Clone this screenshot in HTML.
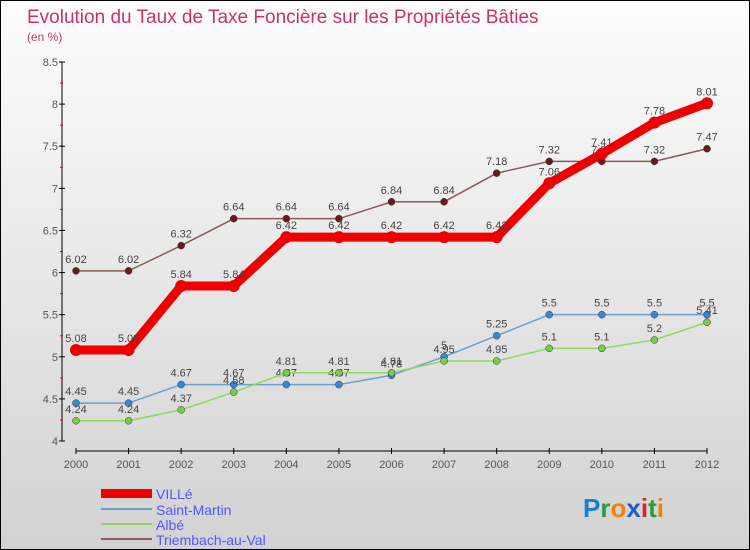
<!DOCTYPE html>
<html><head><meta charset="utf-8"><style>
body{margin:0}
#c{width:748px;height:548px;border:1px solid #000;background:linear-gradient(#fdfdfd,#d2d2d2);position:relative;font-family:"Liberation Sans",sans-serif}
</style></head><body>
<div id="c">
<svg id="s" width="748" height="548" style="position:absolute;left:0;top:0">
<text x="26" y="22" font-size="19" fill="#c8326e">Evolution du Taux de Taxe Foncière sur les Propriétés Bâties</text>
<text x="26" y="40" font-size="12" fill="#c8326e">(en %)</text>
<g id="axes"></g><g id="series"></g>
<g>
<rect x="100" y="488" width="51" height="9" fill="#e00"/>
<text x="155" y="498" font-size="14" fill="#55f">VILLé</text>
<rect x="100" y="507" width="51" height="2" fill="#6aa0cc"/>
<text x="155" y="514" font-size="14" fill="#55f">Saint-Martin</text>
<rect x="100" y="522" width="51" height="2" fill="#8ed860"/>
<text x="155" y="529" font-size="14" fill="#55f">Albé</text>
<rect x="100" y="537" width="51" height="2" fill="#8a5a5a"/>
<text x="155" y="544" font-size="14" fill="#55f">Triembach-au-Val</text>
</g>
<text x="582" y="516" font-size="26" font-weight="bold"><tspan fill="#1a7fd0">P</tspan><tspan fill="#2a9a3a">r</tspan><tspan fill="#f08010">o</tspan><tspan fill="#1a5fd0">x</tspan><tspan fill="#e02020">i</tspan><tspan fill="#2a9a3a">t</tspan><tspan fill="#f08010">i</tspan></text>
</svg></div>
<script>
const years=[2000,2001,2002,2003,2004,2005,2006,2007,2008,2009,2010,2011,2012];
const ville=[5.08,5.08,5.84,5.84,6.42,6.42,6.42,6.42,6.42,7.06,7.41,7.78,8.01];
const saintMartin=[4.45,4.45,4.67,4.67,4.67,4.67,4.78,5,5.25,5.5,5.5,5.5,5.5];
const albe=[4.24,4.24,4.37,4.58,4.81,4.81,4.81,4.95,4.95,5.1,5.1,5.2,5.41];
const triembach=[6.02,6.02,6.32,6.64,6.64,6.64,6.84,6.84,7.18,7.32,7.32,7.32,7.47];
const yTicks=[4,4.5,5,5.5,6,6.5,7,7.5,8,8.5];
const NS="http://www.w3.org/2000/svg";
const X=i=>75+i*(706-75)/(years.length-1);
const Y=v=>440-(v-4)*(440-61)/4.5;
function mk(tag,attrs,parent){const e=document.createElementNS(NS,tag);for(const k in attrs)e.setAttribute(k,attrs[k]);parent.appendChild(e);return e;}
const ax=document.getElementById('axes'),sg=document.getElementById('series');
let e=mk('line',{x1:61,y1:Y(8.5),x2:61,y2:Y(4),stroke:'#000'},ax);

e=mk('line',{x1:75,y1:450,x2:706,y2:450,stroke:'#000'},ax);

yTicks.forEach(t=>{
 mk('line',{x1:58,y1:Y(t),x2:64,y2:Y(t),stroke:'#000'},ax);
 if(t<8.5){const m=mk('line',{x1:59,y1:Y(t+0.25),x2:62,y2:Y(t+0.25),stroke:'#e00'},ax);}
 const l=mk('text',{x:57,y:Y(t)+4,'font-size':11,fill:'#555','text-anchor':'end'},ax);l.textContent=t;
 
});
years.forEach((y,i)=>{
 mk('line',{x1:X(i),y1:447,x2:X(i),y2:453,stroke:'#000'},ax);
 const l=mk('text',{x:X(i),y:467,'font-size':11,fill:'#555','text-anchor':'middle'},ax);l.textContent=y;
 
});
function draw(vals,name,color,w,dotFill,r){
 const g=mk('g',{},sg);
 const p=mk('polyline',{points:vals.map((v,i)=>X(i)+','+Y(v)).join(' '),fill:'none',stroke:color,'stroke-width':w,'stroke-linejoin':'round'},g);
 
 vals.forEach((v,i)=>{
  const c=mk('circle',{cx:X(i),cy:Y(v),r:r,fill:dotFill,stroke:w>3?'none':'#335',"stroke-width":0.5},g);
  
  const t=mk('text',{x:X(i),y:Y(v)-8,'font-size':11,fill:'#444','text-anchor':'middle'},g);t.textContent=v;
  
 });
}
draw(triembach,'triembach','#8a5a5a',1.5,'#6a1a1a',3.5);
draw(saintMartin,'saint-martin','#6aa0cc',1.5,'#3a88cc',3.5);
draw(albe,'albe','#8ed860',1.5,'#7acc44',3.5);
draw(ville,'ville','#e00',9,'#e00',6);
</script>
</body></html>
